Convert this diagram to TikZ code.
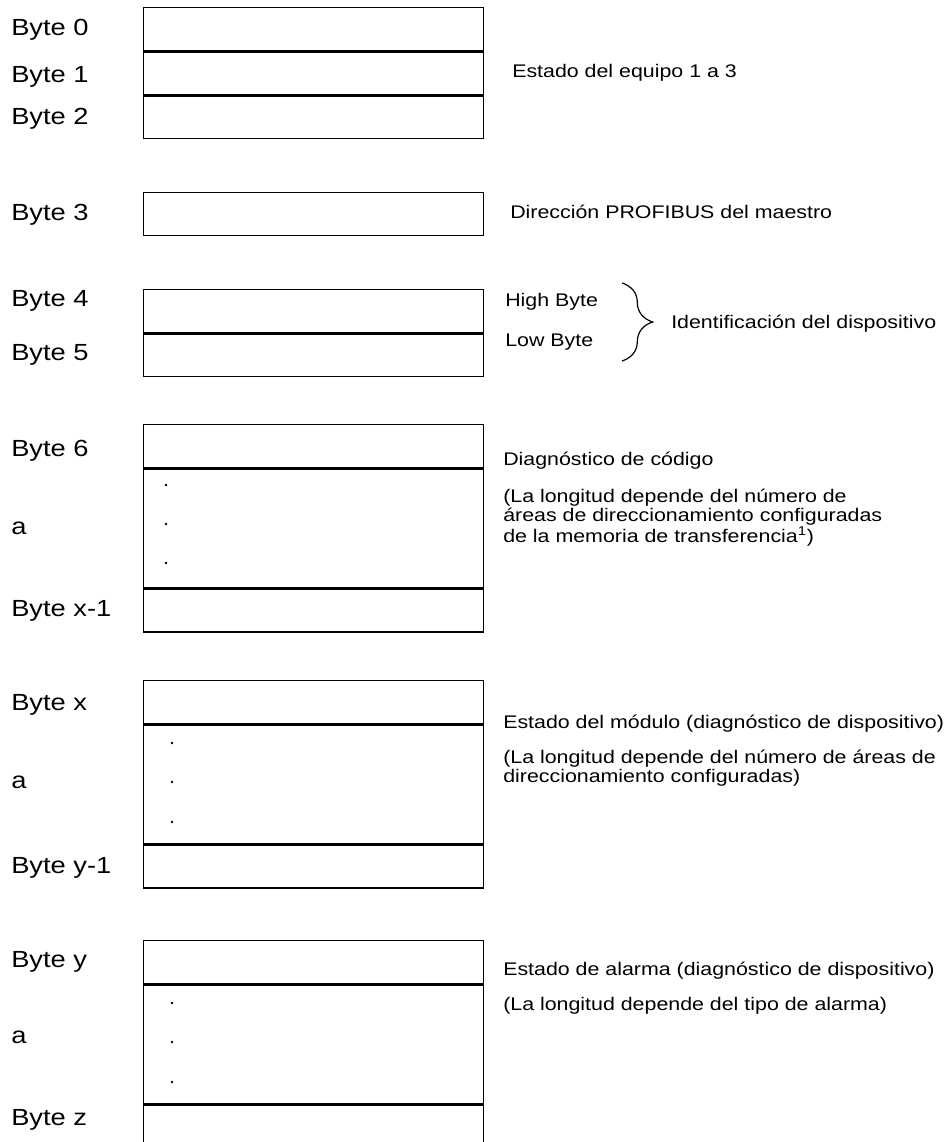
\documentclass[tikz,border=0pt]{standalone}
\usepackage{fontspec}
\setmainfont{Liberation Sans}
\usetikzlibrary{positioning,decorations.pathreplacing}
\newcommand{\wx}[1]{\scalebox{1.17}[1]{#1}}
\tikzset{
  cell/.style={draw,line width=1.1pt,anchor=north west,inner sep=0pt,
    minimum width=255pt,minimum height=32pt},
  tallcell/.style={cell,minimum height=89.25pt},
  blabel/.style={anchor=base west,inner sep=0pt,font=\fontsize{17.5}{21}\selectfont},
  note/.style={anchor=base west,inner sep=0pt,align=left,font=\fontsize{13.7}{14.25}\selectfont},
  dotmark/.style={circle,fill,inner sep=0pt,minimum size=2pt},
  idbrace/.style={decorate,decoration={brace,amplitude=23pt},line width=0.9pt}
}
\begin{document}
\begin{tikzpicture}[x=0.75pt,y=-0.75pt]
 \useasboundingbox (0,0) rectangle (951,1142);
 % byte 0 .. 2
 \node[cell] (b0) at (143,7) {};
 \node[cell,below=0pt of b0] (b1) {};
 \node[cell,below=0pt of b1] (b2) {};
 \node[blabel] (l0) at (11,36) {\wx{Byte 0}};
 \node[blabel] (l1) at (11,82) {\wx{Byte 1}};
 \node[blabel] (l2) at (11,124) {\wx{Byte 2}};
 \node[note] (t0) at (512,77) {\wx{Estado del equipo 1 a 3}};
 % byte 3
 \node[cell] (b3) at (143,192) {};
 \node[blabel] (l3) at (11,220) {\wx{Byte 3}};
 \node[note] (t3) at (510,218) {\wx{Dirección PROFIBUS del maestro}};
 % byte 4, 5
 \node[cell] (b4) at (143,289) {};
 \node[cell,below=0pt of b4] (b5) {};
 \node[blabel] (l4) at (11,306) {\wx{Byte 4}};
 \node[blabel] (l5) at (11,360) {\wx{Byte 5}};
 \node[note] (hi) at (505,306) {\wx{High Byte}};
 \node[note] (lo) at (505,346) {\wx{Low Byte}};
 \coordinate (bt) at (622,283);
 \coordinate (bb) at (622,361);
 \draw[idbrace] (bt) -- (bb);
 \node[note] (ident) at (671,328) {\wx{Identificación del dispositivo}};
 % byte 6 .. x-1
 \node[cell] (c0) at (143,424) {};
 \node[tallcell,below=0pt of c0] (c1) {};
 \node[cell,below=0pt of c1] (c2) {};
 \foreach \y [count=\i] in {485,524,563}
   \node[dotmark] (cd\i) at (166,\y) {};
 \node[blabel] (m0) at (11,456) {\wx{Byte 6}};
 \node[blabel] (m1) at (11,534) {\wx{a}};
 \node[blabel] (m2) at (11,616) {\wx{Byte x-1}};
 \node[note] (t6) at (503,465) {\wx{Diagnóstico de código}};
 \node[note] (t6b) at (503,542) {\wx{(La longitud depende del número de}\\
   \wx{áreas de direccionamiento configuradas}\\
   \wx{de la memoria de transferencia\textsuperscript{1})}};
 % byte x .. y-1
 \node[cell] (d0) at (143,680) {};
 \node[tallcell,below=0pt of d0] (d1) {};
 \node[cell,below=0pt of d1] (d2) {};
 \foreach \y [count=\i] in {743,782,822}
   \node[dotmark] (dd\i) at (172,\y) {};
 \node[blabel] (n0) at (11,710) {\wx{Byte x}};
 \node[blabel] (n1) at (11,788) {\wx{a}};
 \node[blabel] (n2) at (11,873) {\wx{Byte y-1}};
 \node[note] (tx) at (503,728) {\wx{Estado del módulo (diagnóstico de dispositivo)}};
 \node[note] (txb) at (503,782) {\wx{(La longitud depende del número de áreas de}\\
   \wx{direccionamiento configuradas)}};
 % byte y .. z
 \node[cell] (e0) at (143,940) {};
 \node[tallcell,below=0pt of e0] (e1) {};
 \node[cell,below=0pt of e1] (e2) {};
 \foreach \y [count=\i] in {1003,1042,1082}
   \node[dotmark] (ed\i) at (172,\y) {};
 \node[blabel] (o0) at (11,967) {\wx{Byte y}};
 \node[blabel] (o1) at (11,1043) {\wx{a}};
 \node[blabel] (o2) at (11,1125) {\wx{Byte z}};
 \node[note] (ty) at (503,975) {\wx{Estado de alarma (diagnóstico de dispositivo)}};
 \node[note] (tyb) at (503,1010) {\wx{(La longitud depende del tipo de alarma)}};
\end{tikzpicture}
\end{document}
